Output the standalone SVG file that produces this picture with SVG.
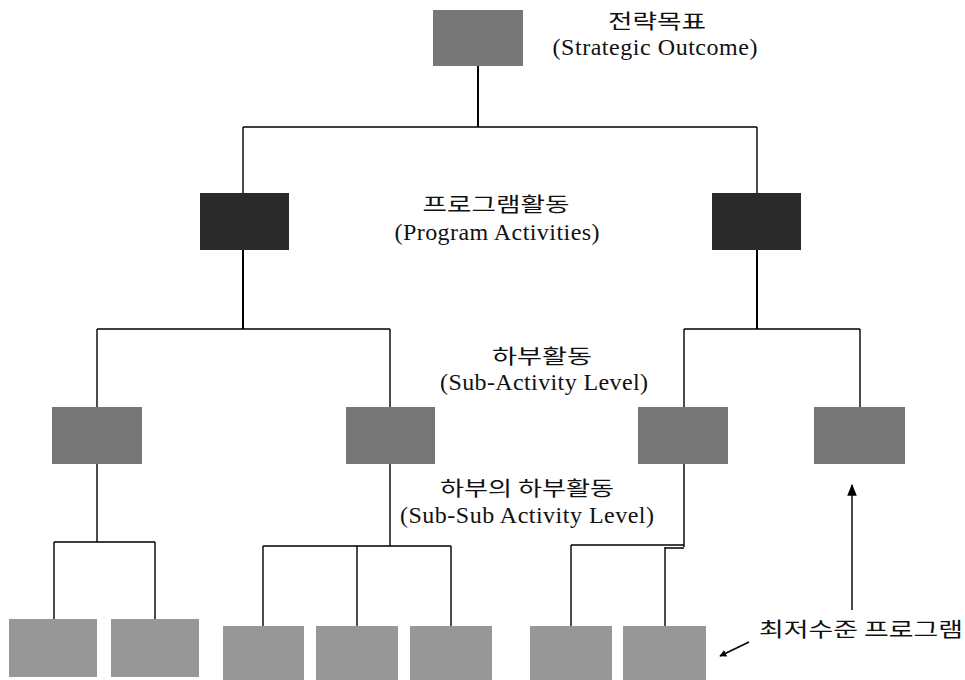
<svg xmlns="http://www.w3.org/2000/svg" width="965" height="680" viewBox="0 0 965 680">
<style>
.top{fill:#777777}
.prog{fill:#2a2a2a}
.sub{fill:#767676}
.leaf{fill:#979797}
.ln{stroke:#000;stroke-width:1.4;fill:none}
.thk{stroke:#000;stroke-width:2;fill:none}
.ko{font-family:"Noto Sans CJK KR","Noto Sans",sans-serif;font-size:20px;fill:#111;text-anchor:middle}
.en{font-family:"Liberation Serif",serif;font-size:24px;fill:#111;text-anchor:middle}
</style>
<defs>
<marker id="ah" viewBox="0 0 10 10" refX="9" refY="5" markerWidth="7" markerHeight="7" orient="auto" markerUnits="userSpaceOnUse">
<path d="M0,0 L10,5 L0,10 z" fill="#000"/>
</marker>
<marker id="ah2" viewBox="0 0 10 10" refX="9" refY="5" markerWidth="12" markerHeight="12" orient="auto" markerUnits="userSpaceOnUse">
<path d="M0,1 L10,5 L0,9 z" fill="#000"/>
</marker>
</defs>
<g id="connectors">
<path class="thk" d="M478,66 V127"/>
<path class="ln" d="M243,127 H757"/>
<path class="ln" d="M243,127 V193 M757,127 V193"/>
<path class="thk" d="M243,250 V329 M757,250 V329"/>
<path class="ln" d="M97,329 H390 M97,329 V407 M390,329 V407"/>
<path class="ln" d="M684,329 H860 M684,329 V407 M860,329 V407"/>
<path class="ln" d="M97,464 V542 M54,542 H155 M54,542 V619 M155,542 V619"/>
<path class="ln" d="M390,464 V546 M263,546 H451 M263,546 V626 M357,546 V626 M451,546 V626"/>
<path class="ln" d="M684,464 V547 M571,545 H684 M665,548 H684 M571,545 V626 M665,547 V626"/>
<path class="ln" d="M852,610 V485" marker-end="url(#ah2)"/>
<path class="ln" d="M749,642 L720,656" marker-end="url(#ah)"/>
</g>
<g id="n-strategic"><rect class="top" x="433" y="10" width="90" height="56"/></g>
<g id="n-prog1"><rect class="prog" x="200" y="193" width="89" height="57"/></g>
<g id="n-prog2"><rect class="prog" x="712" y="193" width="89" height="57"/></g>
<g id="n-sub1"><rect class="sub" x="52" y="407" width="90" height="57"/></g>
<g id="n-sub2"><rect class="sub" x="346" y="407" width="89" height="57"/></g>
<g id="n-sub3"><rect class="sub" x="638" y="407" width="90" height="57"/></g>
<g id="n-sub4"><rect class="sub" x="814" y="407" width="91" height="57"/></g>
<g id="n-leaf1"><rect class="leaf" x="9" y="619" width="88" height="58"/></g>
<g id="n-leaf2"><rect class="leaf" x="111" y="619" width="88" height="58"/></g>
<g id="n-leaf3"><rect class="leaf" x="223" y="626" width="81" height="54"/></g>
<g id="n-leaf4"><rect class="leaf" x="316" y="626" width="82" height="54"/></g>
<g id="n-leaf5"><rect class="leaf" x="410" y="626" width="82" height="54"/></g>
<g id="n-leaf6"><rect class="leaf" x="530" y="626" width="82" height="54"/></g>
<g id="n-leaf7"><rect class="leaf" x="623" y="626" width="83" height="54"/></g>
<g id="labels">
<text class="ko" x="657" y="29" textLength="98" lengthAdjust="spacingAndGlyphs">전략목표</text>
<text class="en" x="655" y="55" textLength="205" lengthAdjust="spacing">(Strategic Outcome)</text>
<text class="ko" x="496" y="212" textLength="147" lengthAdjust="spacingAndGlyphs">프로그램활동</text>
<text class="ko" x="542" y="364" textLength="100" lengthAdjust="spacingAndGlyphs">하부활동</text>
<text class="en" x="497" y="240" textLength="205" lengthAdjust="spacing">(Program Activities)</text>
<text class="en" x="544" y="390" textLength="208" lengthAdjust="spacing">(Sub-Activity Level)</text>
<text class="ko" x="527" y="496" textLength="174" lengthAdjust="spacingAndGlyphs">하부의 하부활동</text>
<text class="en" x="527" y="523" textLength="254" lengthAdjust="spacing">(Sub-Sub Activity Level)</text>
<text class="ko" x="861" y="637" font-size="21" textLength="204" lengthAdjust="spacingAndGlyphs">최저수준 프로그램</text>
</g>
</svg>
